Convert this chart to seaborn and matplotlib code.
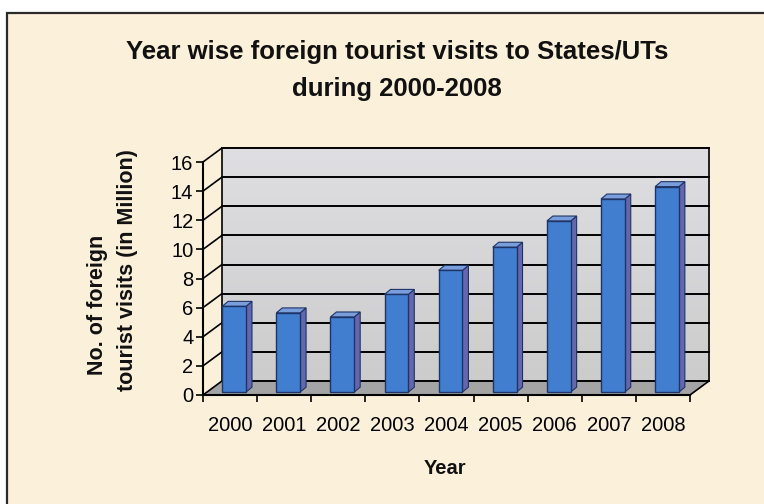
import numpy as np
import pandas as pd
import matplotlib
matplotlib.use("Agg")
import matplotlib.pyplot as plt
import seaborn as sns
from matplotlib.patches import Polygon, Rectangle
from matplotlib.colors import LinearSegmentedColormap

# ---- data ----
years = ["2000", "2001", "2002", "2003", "2004", "2005", "2006", "2007", "2008"]
visits = [5.89, 5.44, 5.16, 6.71, 8.36, 9.95, 11.75, 13.26, 14.11]
y_ticks = [0, 2, 4, 6, 8, 10, 12, 14, 16]
title_l1 = "Year wise foreign tourist visits to States/UTs"
title_l2 = "during 2000-2008"
xlabel = "Year"
ylabel_l1 = "No. of foreign"
ylabel_l2 = "tourist visits (in Million)"

# ---- style ----
CREAM = "#FBF0DA"
FRONT = "#427ED0"
SIDE = "#6666AE"
TOP = "#7A9EDC"
EDGE = "#1E3466"
FLOOR = "#A4A4A4"

plt.rcParams["font.family"] = ["Liberation Sans", "DejaVu Sans"]

W, H = 764, 504
fig = plt.figure(figsize=(W / 100, H / 100), dpi=100, facecolor="white")


def fx(px):
    return px / W


def fy(py):
    return (H - py) / H


fig.patches.append(Rectangle((fx(7), -0.05), 1.1, fy(13) + 0.05, transform=fig.transFigure,
                             facecolor=CREAM, edgecolor="#2a2a2a", lw=1.6, zorder=-5))

ax = fig.add_axes([fx(203), fy(395), fx(690) - fx(203), fy(162) - fy(395)])
ax.set_facecolor("none")
ax.set_zorder(2)

df = pd.DataFrame({"Year": years, "Visits": visits})
sns.barplot(data=df, x="Year", y="Visits", ax=ax, color=FRONT, saturation=1,
            width=0.44, edgecolor=EDGE, linewidth=1.0)
bars = list(ax.patches)

DX, DY = 0.35, 0.96   # wall depth (data units)
BX, BY = 0.075, 0.2   # bar front offset from front plane
SX, SY = 0.11, 0.34   # bar depth

x0, x1 = -0.5, len(years) - 0.5
ymax = y_ticks[-1]

# back wall with gradient
grad = np.linspace(0, 1, 256).reshape(-1, 1)
cmap = LinearSegmentedColormap.from_list("wall", ["#CCCCCC", "#DFDFE3"])
im = ax.imshow(grad, extent=(x0 + DX, x1 + DX, DY, ymax + DY), origin="lower",
               cmap=cmap, aspect="auto", zorder=0.5)
im.set_clip_on(False)

# floor
ax.add_patch(Polygon([(x0, 0), (x1, 0), (x1 + DX, DY), (x0 + DX, DY)], closed=True,
                     facecolor=FLOOR, edgecolor="none", zorder=1.5, clip_on=False))

# gridlines on back wall + left wall diagonals
for t in y_ticks:
    ax.plot([x0 + DX, x1 + DX], [t + DY, t + DY], color="black", lw=1.4, zorder=1.6, clip_on=False)
    ax.plot([x0, x0 + DX], [t, t + DY], color="black", lw=1.2, zorder=1.6, clip_on=False)
ax.plot([x0 + DX, x0 + DX], [DY, ymax + DY], color="black", lw=1.2, zorder=1.6, clip_on=False)
ax.plot([x1 + DX, x1 + DX], [DY, ymax + DY], color="black", lw=1.2, zorder=1.6, clip_on=False)
ax.plot([x1, x1 + DX], [0, DY], color="black", lw=1.2, zorder=1.6, clip_on=False)

# 3D bars
for p in bars:
    bx = p.get_x() + BX
    w = p.get_width()
    h = p.get_height()
    p.set_x(bx)
    p.set_y(BY)
    p.set_zorder(5)
    ax.add_patch(Polygon([(bx + w, BY), (bx + w + SX, BY + SY), (bx + w + SX, BY + h + SY), (bx + w, BY + h)],
                         closed=True, facecolor=SIDE, edgecolor=EDGE, lw=0.8, zorder=4.9, clip_on=False))
    ax.add_patch(Polygon([(bx, BY + h), (bx + w, BY + h), (bx + w + SX, BY + h + SY), (bx + SX, BY + h + SY)],
                         closed=True, facecolor=TOP, edgecolor=EDGE, lw=0.8, zorder=4.9, clip_on=False))

ax.set_xlim(x0, x1)
ax.set_ylim(0, ymax)
ax.set_yticks(y_ticks)
ax.set_xticks(np.arange(x0, x1 + 0.01, 1), minor=True)
ax.tick_params(axis="y", length=5, width=1.2, pad=2, labelsize=14.5, colors="black")
ax.tick_params(axis="x", which="major", length=0, pad=15, labelsize=14.5, colors="black")
ax.tick_params(axis="x", which="minor", length=5, width=1.2, colors="black")
for s in ["top", "right"]:
    ax.spines[s].set_visible(False)
for s in ["left", "bottom"]:
    ax.spines[s].set_linewidth(1.5)
    ax.spines[s].set_color("black")
    ax.spines[s].set_zorder(6)
ax.set_xlabel("")
ax.set_ylabel("")

# texts
fig.text(fx(397), fy(59.3), title_l1, ha="center", va="baseline", fontsize=18.5, weight="bold", color="#111")
fig.text(fx(397), fy(96), title_l2, ha="center", va="baseline", fontsize=18.5, weight="bold", color="#111")
fig.text(fx(445), fy(474), xlabel, ha="center", va="baseline", fontsize=14.5, weight="bold", color="#111")
fig.text(fx(103), fy(305), ylabel_l1, ha="center", va="baseline", rotation=90, rotation_mode="anchor",
         fontsize=15.5, weight="bold", color="#111")
fig.text(fx(133), fy(270), ylabel_l2, ha="center", va="baseline", rotation=90, rotation_mode="anchor",
         fontsize=15.5, weight="bold", color="#111")

fig.savefig("out.png", dpi=100, facecolor="white")
